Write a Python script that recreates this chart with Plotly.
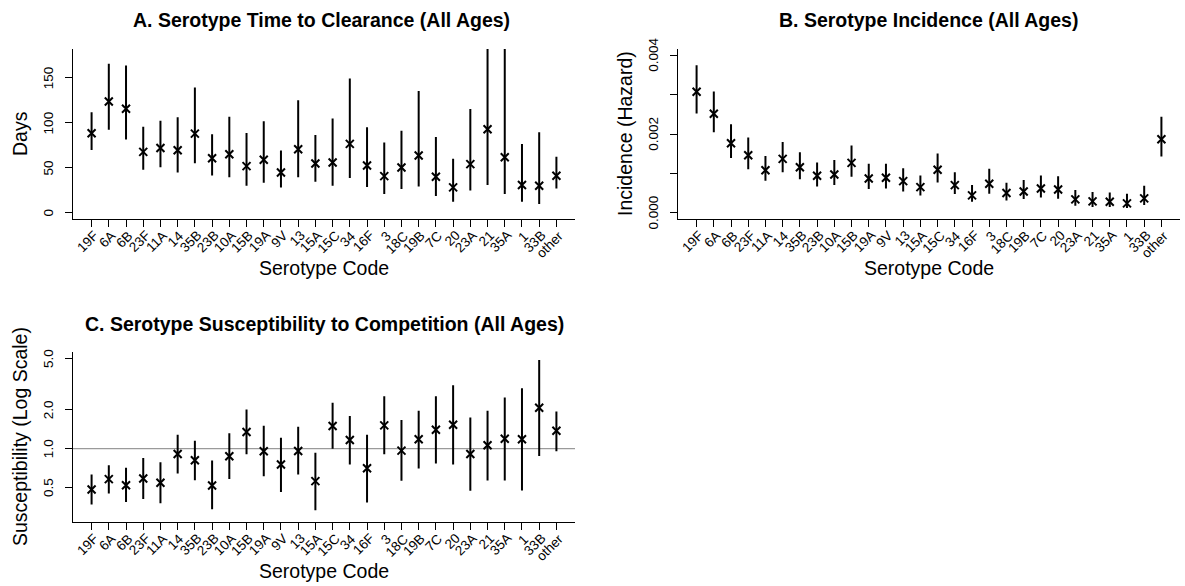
import math
import plotly.graph_objects as go

serotypes = ["19F", "6A", "6B", "23F", "11A", "14", "35B", "23B", "10A", "15B", "19A", "9V", "13",
             "15A", "15C", "34", "16F", "3", "18C", "19B", "7C", "20", "23A", "21", "35A", "1", "33B", "other"]

# A. Time to clearance (days)
clear_est = [88.5, 123.8, 115.7, 67.8, 72.2, 69.7, 88.1, 60.8, 65.2, 52.0, 59.0, 45.0, 70.8,
             54.9, 56.0, 76.7, 52.7, 40.9, 50.5, 63.8, 40.2, 28.4, 54.2, 92.9, 61.9, 31.0, 30.2, 41.3]
clear_lo = [70.0, 92.5, 81.5, 47.9, 50.9, 45.0, 55.3, 41.7, 39.8, 30.2, 33.5, 28.4, 39.8,
            34.6, 30.2, 38.7, 28.8, 21.0, 26.5, 29.5, 18.8, 12.5, 25.1, 31.0, 21.0, 12.5, 10.0, 27.3]
clear_hi = [111.7, 165.5, 163.7, 95.8, 102.5, 106.2, 139.3, 87.4, 106.9, 88.8, 101.7, 69.3, 125.0,
            86.6, 105.0, 149.3, 95.1, 78.1, 91.4, 135.3, 84.4, 60.1, 115.4, 200.0, 195.0, 76.7, 89.6, 62.3]
clear_ticks = [0, 50, 100, 150]
clear_ticklabels = ["0", "50", "100", "150"]

# B. Incidence (hazard)
inc_est = [0.003074, 0.002518, 0.001768, 0.001465, 0.001086, 0.001373, 0.001162, 0.000943, 0.000977,
           0.001272, 0.000876, 0.000893, 0.000808, 0.000657, 0.001095, 0.000707, 0.000446, 0.000741,
           0.000505, 0.000547, 0.000623, 0.000598, 0.000345, 0.000295, 0.000286, 0.000244, 0.000371, 0.001869]
inc_lo = [0.002526, 0.002046, 0.001398, 0.001112, 0.000817, 0.001036, 0.000859, 0.000674, 0.000707,
          0.000918, 0.000606, 0.000623, 0.000547, 0.000446, 0.000775, 0.000480, 0.000286, 0.000488,
          0.000320, 0.000354, 0.000396, 0.000362, 0.000185, 0.000152, 0.000152, 0.000126, 0.000202, 0.001432]
inc_hi = [0.003747, 0.003082, 0.002248, 0.001912, 0.001448, 0.001802, 0.001541, 0.001280, 0.001347,
          0.001709, 0.001246, 0.001246, 0.001137, 0.000952, 0.001507, 0.001036, 0.000707, 0.001120,
          0.000766, 0.000834, 0.000952, 0.000935, 0.000581, 0.000531, 0.000522, 0.000488, 0.000691, 0.002442]
inc_ticks = [0, 0.001, 0.002, 0.003, 0.004]
inc_ticklabels = ["0.000", "", "0.002", "", "0.004"]

# C. Susceptibility to competition (log scale)
sus_est = [0.482, 0.580, 0.520, 0.586, 0.543, 0.909, 0.812, 0.518, 0.872, 1.345, 0.954, 0.752, 0.959,
           0.559, 1.497, 1.167, 0.705, 1.515, 0.965, 1.181, 1.403, 1.533, 0.909, 1.061, 1.195, 1.181, 2.074, 1.378]
sus_lo = [0.369, 0.449, 0.385, 0.406, 0.376, 0.641, 0.569, 0.338, 0.580, 0.904, 0.611, 0.460, 0.630,
          0.332, 1.000, 0.752, 0.382, 0.904, 0.562, 0.700, 0.766, 0.752, 0.471, 0.566, 0.566, 0.473, 0.878, 0.954]
sus_hi = [0.630, 0.743, 0.709, 0.847, 0.784, 1.283, 1.153, 0.808, 1.314, 2.015, 1.506, 1.216, 1.480,
          0.931, 2.270, 1.789, 1.283, 2.550, 1.665, 1.967, 2.550, 3.107, 1.746, 1.967, 2.490, 2.944, 4.877, 1.944]
sus_ticks = [0.5, 1, 2, 5]
sus_ticklabels = ["0.5", "1.0", "2.0", "5.0"]

FONT = "Liberation Sans, Arial, Helvetica, sans-serif"
W, H = 1185, 586
xpos = list(range(len(serotypes)))
XR = [-1.08, len(serotypes) - 1 + 1.08]
TICKFONT = 13.5
LABFONT = 19.5

fig = go.Figure()


def add_panel(est, lo, hi, xa, ya):
    fig.add_trace(go.Scatter(
        x=xpos, y=est, mode="markers", xaxis=xa, yaxis=ya, showlegend=False, hoverinfo="skip",
        marker=dict(symbol="x-thin", size=8, color="black", line=dict(width=2, color="black")),
        error_y=dict(type="data", symmetric=False,
                     array=[h - e for h, e in zip(hi, est)],
                     arrayminus=[e - l for e, l in zip(est, lo)],
                     width=0, thickness=2, color="black"),
    ))


# reference line at 1.0 in panel C
fig.add_trace(go.Scatter(x=XR, y=[1, 1], mode="lines", xaxis="x3", yaxis="y3", showlegend=False,
                         hoverinfo="skip", line=dict(color="#9a9a9a", width=1.3)))

add_panel(clear_est, clear_lo, clear_hi, "x", "y")
add_panel(inc_est, inc_lo, inc_hi, "x2", "y2")
add_panel(sus_est, sus_lo, sus_hi, "x3", "y3")


def px_x(p):
    return p / W


def px_y(p):
    return 1 - p / H


def xaxis(dom, anchor):
    return dict(domain=dom, anchor=anchor, range=XR, tickmode="array", tickvals=xpos,
                showticklabels=False, ticks="outside", ticklen=7, tickwidth=1, tickcolor="black",
                showline=True, linecolor="black", linewidth=1.2, showgrid=False, zeroline=False)


def yaxis(dom, anchor, tickvals, **kw):
    d = dict(domain=dom, anchor=anchor, tickmode="array", tickvals=tickvals, showticklabels=False,
             ticks="outside", ticklen=7, tickwidth=1, tickcolor="black",
             showline=True, linecolor="black", linewidth=1.2, showgrid=False, zeroline=False)
    d.update(kw)
    return d


xa_dom = [px_x(73), px_x(575)]
xb_dom = [px_x(678), px_x(1180)]
ytop_dom = [px_y(219.3), px_y(49)]
ybot_dom = [px_y(522.3), px_y(352.3)]

fig.update_layout(
    width=W, height=H, margin=dict(l=0, r=0, t=0, b=0),
    paper_bgcolor="white", plot_bgcolor="white",
    font=dict(family=FONT, color="black"),
    xaxis=xaxis(xa_dom, "y"),
    yaxis=yaxis(ytop_dom, "x", clear_ticks, range=[-7, 182]),
    xaxis2=xaxis(xb_dom, "y2"),
    yaxis2=yaxis(ytop_dom, "x2", inc_ticks, range=[-0.00016, 0.00416]),
    xaxis3=xaxis(xa_dom, "y3"),
    yaxis3=yaxis(ybot_dom, "x3", sus_ticks, type="log", range=[-0.572, 0.748]),
)

ann = []


def text(x, y, s, size, bold=False, angle=0):
    ann.append(dict(x=px_x(x), y=px_y(y), xref="paper", yref="paper", text=f"<b>{s}</b>" if bold else s,
                    showarrow=False, xanchor="center", yanchor="middle", textangle=angle,
                    font=dict(family=FONT, size=size, color="black")))


# rotated x tick labels (right end just below each tick)
for xref, ybase in (("x", 226.5), ("x2", 226.5), ("x3", 529.5)):
    for i, lab in enumerate(serotypes):
        ann.append(dict(x=i, y=px_y(ybase), xref=xref, yref="paper", text=lab, showarrow=False,
                        xanchor="right", yanchor="top", textangle=-45, xshift=11, borderpad=0,
                        font=dict(family=FONT, size=TICKFONT, color="black")))

# rotated y tick labels (right edge at a fixed distance from the axis)
for v, lab in zip(clear_ticks, clear_ticklabels):
    ann.append(dict(x=px_x(57), y=v, xref="paper", yref="y", text=lab, showarrow=False, textangle=-90,
                    xanchor="right", yanchor="middle", borderpad=0,
                    font=dict(family=FONT, size=TICKFONT, color="black")))
for v, lab in zip(inc_ticks, inc_ticklabels):
    if lab:
        ann.append(dict(x=px_x(662), y=v, xref="paper", yref="y2", text=lab, showarrow=False, textangle=-90,
                        xanchor="right", yanchor="middle", borderpad=0,
                        font=dict(family=FONT, size=TICKFONT, color="black")))
for v, lab in zip(sus_ticks, sus_ticklabels):
    ann.append(dict(x=px_x(57), y=math.log10(v), xref="paper", yref="y3", text=lab, showarrow=False,
                    textangle=-90, xanchor="right", yanchor="middle", borderpad=0,
                    font=dict(family=FONT, size=TICKFONT, color="black")))

text(321, 20, "A. Serotype Time to Clearance (All Ages)", LABFONT, bold=True)
text(928, 20, "B. Serotype Incidence (All Ages)", LABFONT, bold=True)
text(324, 324, "C. Serotype Susceptibility to Competition (All Ages)", LABFONT, bold=True)
text(324, 268, "Serotype Code", LABFONT)
text(929, 268, "Serotype Code", LABFONT)
text(324, 571, "Serotype Code", LABFONT)
text(20, 134, "Days", LABFONT, angle=-90)
text(625, 134, "Incidence (Hazard)", LABFONT, angle=-90)
text(20, 437, "Susceptibility (Log Scale)", LABFONT, angle=-90)
fig.update_layout(annotations=ann)

fig.write_html("out.html")
